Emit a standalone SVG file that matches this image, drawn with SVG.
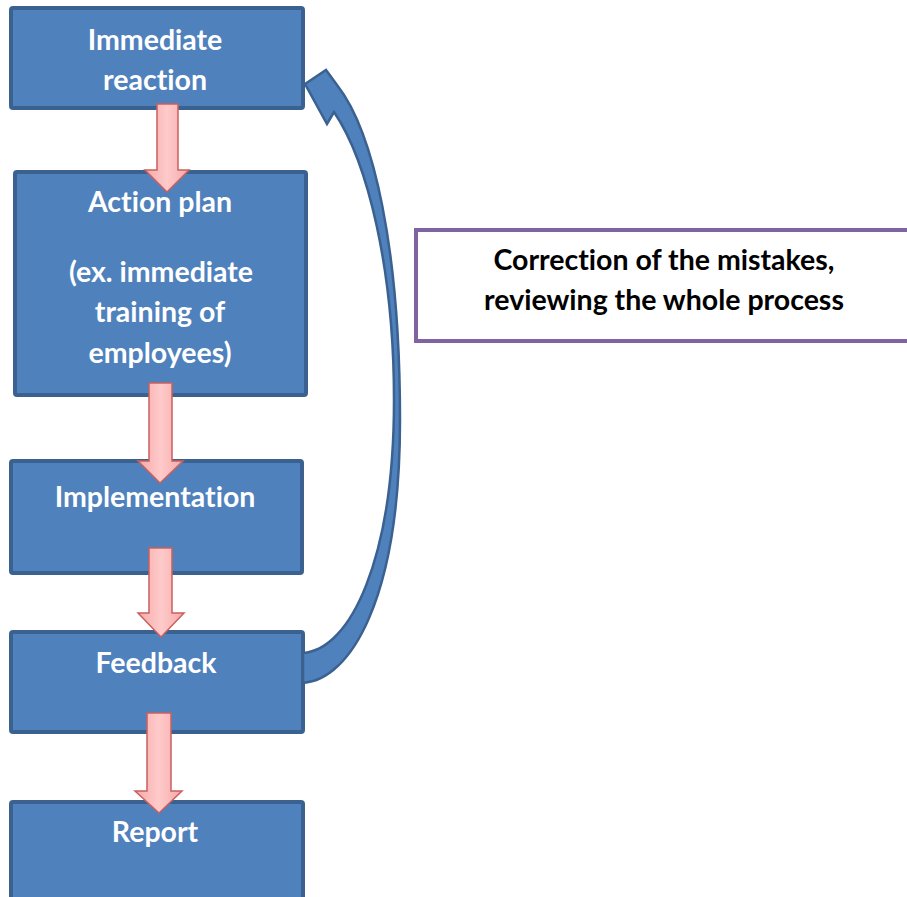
<svg xmlns="http://www.w3.org/2000/svg" width="907" height="897" viewBox="0 0 907 897">
<defs>
<style>
.box{fill:#4F81BD;stroke:#3A6190;stroke-width:4}
.t{font-family:Lato,"Liberation Sans",sans-serif;font-weight:bold;font-size:28.5px;fill:#FFFFFF;text-anchor:middle;font-variant-ligatures:none}
.k{font-family:Lato,"Liberation Sans",sans-serif;font-weight:bold;font-size:28.5px;fill:#000000;text-anchor:middle;font-variant-ligatures:none}
.pk{fill:url(#pg);stroke:#C9605E;stroke-width:1.5}
</style>
<linearGradient id="pg" x1="0" y1="0" x2="1" y2="0">
<stop offset="0" stop-color="#F4A9A8"/>
<stop offset="0.5" stop-color="#FFCACA"/>
<stop offset="1" stop-color="#F4A9A8"/>
</linearGradient>
</defs>
<rect width="907" height="897" fill="#FFFFFF"/>
<g id="n1"><rect class="box" x="11" y="8" width="292" height="100" rx="2"/><text class="t" x="155" y="50">Immediate</text><text class="t" x="155" y="90">reaction</text></g>
<g id="n2"><rect class="box" x="15" y="172" width="291" height="223" rx="2"/><text class="t" x="160" y="212">Action plan</text><text class="t" x="161" y="282">(ex. immediate</text><text class="t" x="160" y="322">training of</text><text class="t" x="160" y="363">employees)</text></g>
<g id="n3"><rect class="box" x="11" y="461" width="291" height="112" rx="2"/><text class="t" x="155" y="507">Implementation</text></g>
<g id="n4"><rect class="box" x="11" y="632" width="292" height="100" rx="2"/><text class="t" x="156" y="673">Feedback</text></g>
<g id="n5"><rect class="box" x="11" y="802" width="292" height="100" rx="2"/><text class="t" x="155" y="842">Report</text></g>
<g id="n6"><rect x="416" y="230" width="500" height="111" fill="#FFFFFF" stroke="#8064A2" stroke-width="4"/><text class="k" x="664" y="270">Correction of the mistakes,</text><text class="k" x="664" y="310">reviewing the whole process</text></g>
<g id="connectors">
<path class="pk" d="M157,104 H178 V170 H189 L167,192 L145,170 H157 Z"/>
<path class="pk" d="M149,383 H172 V461 H183 L160,483 L138,461 H149 Z"/>
<path class="pk" d="M149,548 H172 V613 H184 L161,637 L138,613 H149 Z"/>
<path class="pk" d="M147,713 H171 V791 H182 L159,813 L135,791 H147 Z"/>
<path d="M305,84 L326,70 L337,85 C374,132 400,250 400,420 C400,600 350,680 303,683 L303,653 C350,650 394,560 394,400 C394,270 368,162 334,112 L327,124 Z" fill="#4F81BD" stroke="#3A6190" stroke-width="2.5" stroke-linejoin="miter"/>
</g>
</svg>
